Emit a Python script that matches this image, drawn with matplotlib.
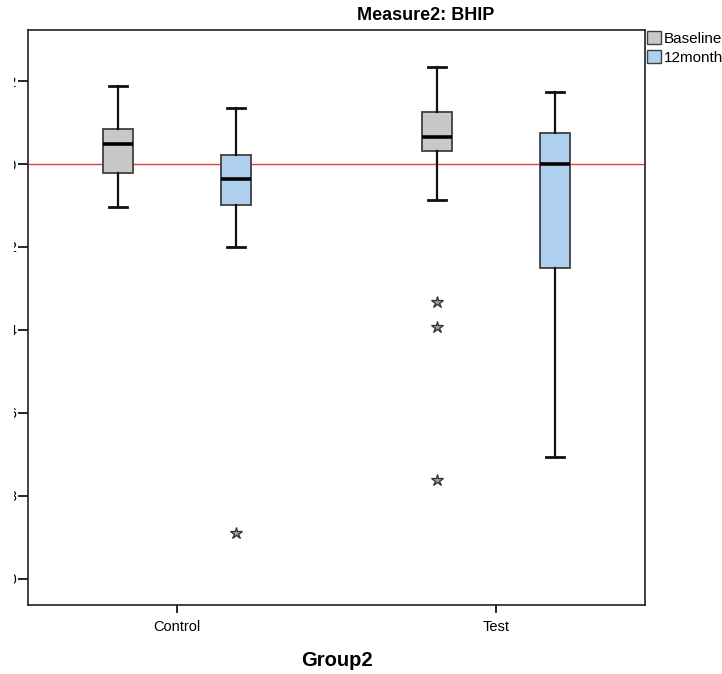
import matplotlib
matplotlib.use("Agg")
import matplotlib.pyplot as plt
from matplotlib.patches import Patch, Rectangle

# values (y axis: ticks 0.2 apart, red ref line at 0)
groups = ["Control", "Test"]
series = ["Baseline", "12months"]
colors = ["#c8c8c8", "#aecfee"]

whis_hi = [[0.188, 0.135], [0.234, 0.173]]
q3 = [[0.084, 0.022], [0.125, 0.075]]
median = [[0.048, -0.036], [0.065, 0.000]]
q1 = [[-0.022, -0.099], [0.031, -0.251]]
whis_lo = [[-0.104, -0.200], [-0.087, -0.706]]
outliers = [[[], [-0.889]], [[-0.333, -0.393, -0.761], []]]

yticks = [0.2, 0.0, -0.2, -0.4, -0.6, -0.8, -1.0]
ytick_labels = ["0.2", "0.0", "-0.2", "-0.4", "-0.6", "-0.8", "-1.0"]

plt.rcParams["font.family"] = ["Liberation Sans", "DejaVu Sans"]

W, H = 722, 674
fig = plt.figure(figsize=(W / 100, H / 100), dpi=100)
ax = fig.add_axes([28 / W, 1 - 605 / H, (645 - 28) / W, (605 - 30) / H])

offset = 0.185
box_w = 0.094
for gi, g in enumerate(groups):
    for si, s in enumerate(series):
        st = dict(med=median[gi][si], q1=q1[gi][si], q3=q3[gi][si],
                  whislo=whis_lo[gi][si], whishi=whis_hi[gi][si],
                  fliers=outliers[gi][si])
        pos = gi + (-offset if si == 0 else offset)
        ax.bxp([st], positions=[pos], widths=box_w, capwidths=0.056,
               patch_artist=True, showfliers=True,
               boxprops=dict(facecolor=colors[si], edgecolor="#404040", lw=1.3),
               medianprops=dict(color="black", lw=2.6),
               whiskerprops=dict(color="#101010", lw=1.6),
               capprops=dict(color="#101010", lw=2.0),
               flierprops=dict(marker="*", markersize=9, markerfacecolor="#9a9a9a",
                               markeredgecolor="#303030", markeredgewidth=0.9,
                               linestyle="none"),
               zorder=3)

ax.axhline(0.0, color="#e84040", lw=1.0, zorder=1)

ax.set_xlim(-0.467, 1.467)
ax.set_ylim(-1.063, 0.323)
ax.set_xticks(range(len(groups)))
ax.set_xticklabels(groups, fontsize=10.5)
ax.set_yticks(yticks)
ax.set_yticklabels(ytick_labels, fontsize=10)
ax.tick_params(axis="y", length=7.0, width=1.2, pad=1)
ax.tick_params(axis="x", length=6, width=1.2, pad=5)
for sp in ax.spines.values():
    sp.set_linewidth(1.2)
    sp.set_color("#202020")

ax.set_xlabel("Group2", fontsize=14.5, fontweight="bold", labelpad=12)
fig.text(426 / W, 1 - 16 / H, "Measure2: BHIP", fontsize=13, fontweight="bold",
         ha="center", va="center")

# the reference is cropped: only a sliver of each y tick label shows
fig.add_artist(Rectangle((0, 0), 14 / W, 1, transform=fig.transFigure,
                         facecolor="white", edgecolor="none", zorder=10))

handles = [Patch(facecolor=c, edgecolor="#404040", lw=1.0) for c in colors]
fig.legend(handles, series, loc="upper left", bbox_to_anchor=(647 / W, 1 - 31 / H),
           frameon=False, fontsize=11, handlelength=0.9, handleheight=0.9,
           handletextpad=0.2, borderpad=0, borderaxespad=0, labelspacing=0.3)

fig.savefig("out.png", dpi=100)
